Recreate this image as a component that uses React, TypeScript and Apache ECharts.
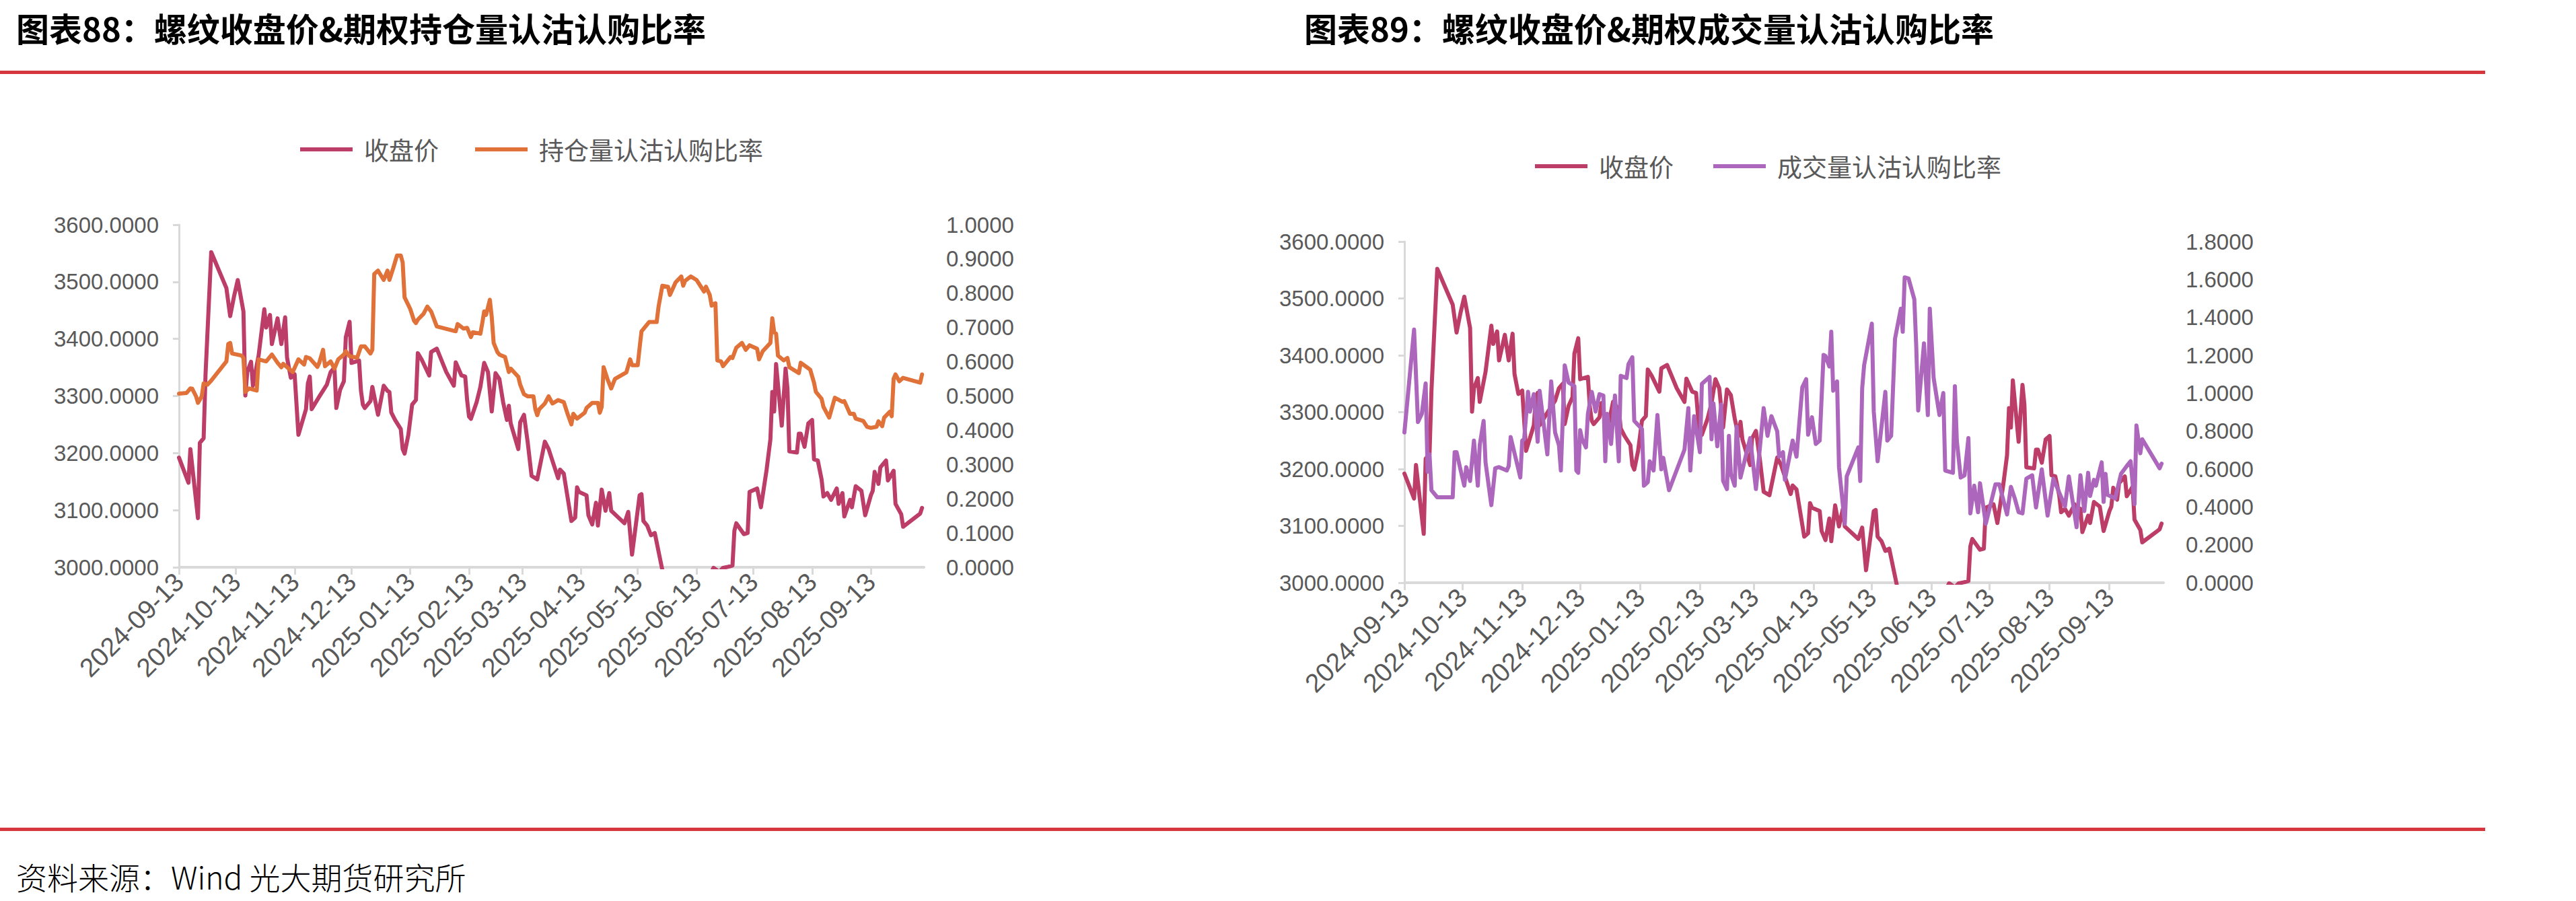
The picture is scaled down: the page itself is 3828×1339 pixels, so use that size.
import React, { useEffect, useRef } from "react";
import * as echarts from "echarts";

// ---------- texts ----------
const titles = [
  "图表88：螺纹收盘价&期权持仓量认沽认购比率",
  "图表89：螺纹收盘价&期权成交量认沽认购比率",
];
const sourceText = "资料来源：Wind 光大期货研究所";
const NAME_CLOSE = "收盘价";
const NAME_OI = "持仓量认沽认购比率";
const NAME_VOL = "成交量认沽认购比率";

// ---------- axes ----------
const START_DATE = "2024-09-13"; // day 0 of the day-offset arrays below
const AXIS_END_DAY = 393; // axis ends 393 days after START_DATE
const xTickDates = [
  "2024-09-13", "2024-10-13", "2024-11-13", "2024-12-13", "2025-01-13", "2025-02-13",
  "2025-03-13", "2025-04-13", "2025-05-13", "2025-06-13", "2025-07-13", "2025-08-13", "2025-09-13",
];
const priceAxis = { min: 3000, max: 3600, step: 100 };
const oiAxis = { min: 0, max: 1, step: 0.1 };
const volAxis = { min: 0, max: 1.8, step: 0.2 };

// ---------- data (day offsets from START_DATE) ----------
const closeDay = [
  0, 5, 6, 10, 11, 13, 14, 17, 25, 27, 29, 31, 34, 35, 36, 38, 39, 42, 45, 46, 48, 49, 52, 54, 56, 57, 59, 61, 63, 67,
  68, 69, 70, 74, 78, 80, 82, 83, 85, 87, 88, 90, 91, 95, 96, 97, 98, 101, 102, 105, 108, 110, 111, 112, 114, 117, 118, 119, 121, 123,
  125, 126, 128, 132, 133, 136, 141, 145, 146, 149, 151, 152, 153, 154, 157, 159, 161, 163, 165, 167, 169, 171, 173, 174, 175, 179, 180, 182, 184, 186,
  189, 193, 195, 200, 201, 203, 207, 209, 210, 211, 215, 216, 218, 220, 221, 223, 225, 227, 228, 235, 237, 239, 243, 244, 245, 247, 249, 251, 255, 256,
  259, 263, 266, 270, 273, 277, 280, 282, 285, 287, 290, 292, 293, 294, 298, 300, 301, 305, 307, 310, 312, 313, 314, 315, 318, 320, 321, 322, 326, 327,
  328, 330, 332, 334, 335, 337, 339, 340, 342, 344, 347, 348, 350, 351, 354, 355, 357, 360, 362, 365, 366, 367, 369, 370, 373, 374, 377, 378, 381, 382,
  391, 392,
];
const closeVal = [
  3192, 3148, 3207, 3086, 3218, 3226, 3338, 3552, 3489, 3440, 3474, 3503, 3448, 3301, 3342, 3360, 3318, 3371, 3452, 3420, 3442, 3391, 3436, 3391, 3438, 3367, 3332, 3338, 3232, 3277,
  3322, 3334, 3277, 3299, 3320, 3342, 3350, 3279, 3311, 3326, 3403, 3430, 3358, 3362, 3309, 3285, 3279, 3291, 3316, 3267, 3318, 3309, 3307, 3271, 3258, 3242, 3207, 3199, 3232, 3285,
  3293, 3375, 3364, 3336, 3377, 3383, 3342, 3318, 3359, 3336, 3334, 3293, 3264, 3260, 3289, 3316, 3358, 3342, 3273, 3340, 3330, 3289, 3258, 3283, 3252, 3207, 3254, 3267, 3218, 3160,
  3154, 3220, 3207, 3156, 3171, 3164, 3081, 3087, 3140, 3132, 3126, 3091, 3075, 3113, 3073, 3136, 3099, 3130, 3099, 3077, 3097, 3022, 3126, 3128, 3081, 3073, 3056, 3060, 2995, 2985,
  2970, 2955, 2960, 2945, 2960, 2975, 2985, 2999, 2992, 2999, 3001, 3003, 3064, 3077, 3058, 3060, 3132, 3138, 3105, 3171, 3224, 3307, 3273, 3356, 3248, 3348, 3313, 3203, 3201, 3234,
  3234, 3211, 3252, 3258, 3189, 3187, 3154, 3124, 3130, 3118, 3138, 3111, 3130, 3089, 3118, 3105, 3142, 3134, 3091, 3126, 3134, 3167, 3146, 3175, 3187, 3152, 3169, 3111, 3093, 3071,
  3094, 3104,
];

const oiDay = [
  0, 4, 6, 7, 9, 10, 12, 13, 15, 17, 25, 26, 27, 28, 33, 34, 35, 37, 41, 42, 46, 49, 52, 54, 55, 60, 63, 66, 67, 69,
  73, 74, 76, 77, 80, 82, 84, 87, 88, 90, 94, 96, 98, 101, 102, 103, 105, 108, 110, 111, 113, 115, 117, 118, 119, 122, 124, 125, 126, 129,
  131, 133, 136, 146, 147, 150, 152, 154, 155, 159, 160, 161, 162, 164, 165, 166, 168, 169, 172, 174, 175, 179, 180, 182, 184, 187, 188, 189, 190, 193,
  195, 197, 200, 203, 205, 207, 208, 210, 214, 215, 218, 221, 222, 223, 224, 226, 228, 230, 236, 238, 239, 242, 243, 244, 248, 252, 253, 255, 258, 259,
  262, 265, 266, 267, 270, 273, 277, 278, 280, 281, 283, 284, 286, 287, 291, 292, 294, 297, 299, 301, 305, 306, 308, 312, 313, 314, 315, 316, 319, 321,
  322, 327, 328, 331, 333, 335, 336, 339, 340, 343, 346, 350, 351, 354, 356, 357, 361, 363, 365, 368, 369, 371, 372, 375, 376, 377, 378, 380, 382, 391,
  392,
];
const oiVal = [
  0.507, 0.509, 0.522, 0.521, 0.499, 0.48, 0.499, 0.537, 0.533, 0.545, 0.601, 0.652, 0.655, 0.624, 0.618, 0.611, 0.512, 0.522, 0.516, 0.607, 0.601, 0.621, 0.597, 0.584, 0.594, 0.57, 0.607, 0.592, 0.614, 0.61,
  0.585, 0.597, 0.635, 0.587, 0.601, 0.58, 0.607, 0.621, 0.631, 0.616, 0.612, 0.645, 0.645, 0.624, 0.635, 0.856, 0.866, 0.839, 0.866, 0.839, 0.873, 0.91, 0.91, 0.89, 0.788, 0.754, 0.72, 0.713, 0.723, 0.74,
  0.761, 0.747, 0.703, 0.689, 0.71, 0.697, 0.699, 0.672, 0.686, 0.682, 0.713, 0.747, 0.737, 0.781, 0.73, 0.655, 0.628, 0.621, 0.614, 0.57, 0.58, 0.556, 0.533, 0.505, 0.499, 0.499, 0.461, 0.444, 0.461, 0.478,
  0.499, 0.478, 0.488, 0.482, 0.448, 0.417, 0.448, 0.434, 0.451, 0.465, 0.48, 0.48, 0.451, 0.468, 0.584, 0.55, 0.522, 0.55, 0.569, 0.607, 0.59, 0.59, 0.641, 0.689, 0.716, 0.716, 0.761, 0.822, 0.819, 0.795,
  0.832, 0.849, 0.822, 0.836, 0.849, 0.839, 0.805, 0.819, 0.795, 0.764, 0.771, 0.604, 0.601, 0.587, 0.614, 0.611, 0.641, 0.655, 0.635, 0.648, 0.638, 0.607, 0.631, 0.655, 0.727, 0.686, 0.682, 0.618, 0.604, 0.611,
  0.584, 0.567, 0.597, 0.585, 0.577, 0.539, 0.512, 0.492, 0.468, 0.437, 0.495, 0.483, 0.485, 0.448, 0.448, 0.434, 0.427, 0.41, 0.407, 0.41, 0.426, 0.412, 0.437, 0.454, 0.441, 0.55, 0.563, 0.543, 0.553, 0.539,
  0.563,
];

const volDay = [
  0, 5, 7, 9, 11, 12, 13, 14, 17, 25, 26, 27, 29, 31, 32, 34, 36, 38, 39, 41, 42, 45, 47, 49, 53, 54, 55, 60, 61, 62,
  64, 65, 67, 69, 70, 74, 76, 78, 80, 81, 83, 85, 88, 89, 90, 91, 92, 94, 95, 97, 99, 101, 103, 104, 105, 107, 109, 111, 112, 115,
  116, 118, 119, 123, 124, 126, 127, 129, 131, 133, 134, 137, 145, 147, 148, 150, 153, 154, 158, 159, 160, 162, 164, 165, 167, 168, 169, 171, 172, 174,
  179, 182, 186, 188, 190, 193, 194, 196, 197, 201, 203, 206, 208, 209, 211, 213, 215, 217, 218, 220, 221, 222, 224, 225, 228, 229, 235, 236, 237, 238,
  242, 243, 245, 249, 250, 252, 254, 257, 258, 259, 261, 264, 265, 266, 269, 271, 272, 274, 277, 279, 280, 284, 285, 286, 288, 290, 292, 293, 295, 297,
  298, 301, 306, 308, 312, 314, 316, 318, 320, 322, 325, 327, 330, 333, 336, 339, 342, 344, 348, 350, 352, 354, 355, 357, 358, 361, 362, 363, 364, 368,
  371, 374, 376, 378, 379, 381, 382, 391, 392,
];
const volVal = [
  0.793, 1.336, 0.848, 0.891, 1.052, 0.586, 0.677, 0.488, 0.451, 0.451, 0.689, 0.689, 0.598, 0.512, 0.61, 0.537, 0.75, 0.512, 0.726, 0.854, 0.635, 0.409, 0.604, 0.61, 0.592, 0.616, 0.769, 0.555, 0.75, 0.757,
  1.007, 0.903, 0.995, 0.744, 1.013, 0.677, 1.062, 0.793, 0.726, 0.592, 1.147, 1.056, 1.037, 0.592, 0.58, 0.805, 0.757, 0.714, 0.891, 1.007, 0.903, 0.995, 0.988, 0.641, 0.891, 0.732, 0.988, 0.641, 1.092, 1.08,
  1.153, 1.19, 0.854, 0.811, 0.512, 0.531, 0.641, 0.592, 0.885, 0.598, 0.659, 0.488, 0.702, 0.921, 0.592, 0.879, 0.689, 1.049, 1.086, 0.757, 0.946, 0.72, 0.94, 0.537, 0.494, 0.775, 0.574, 0.512, 0.824, 0.555,
  0.763, 0.494, 0.921, 0.775, 0.879, 0.799, 0.665, 0.689, 0.543, 0.75, 0.665, 1.031, 1.074, 0.781, 0.873, 0.732, 0.75, 1.202, 1.196, 1.141, 1.324, 1.013, 1.062, 0.61, 0.311, 0.561, 0.714, 0.537, 1.025, 1.147,
  1.367, 0.903, 0.641, 1.007, 0.75, 0.775, 1.287, 1.446, 1.324, 1.611, 1.605, 1.495, 1.245, 0.909, 1.263, 0.885, 1.446, 1.08, 0.885, 1.001, 0.592, 0.58, 1.037, 0.75, 0.555, 0.567, 0.763, 0.366, 0.512, 0.372,
  0.525, 0.311, 0.519, 0.519, 0.36, 0.506, 0.445, 0.372, 0.366, 0.549, 0.567, 0.397, 0.598, 0.354, 0.549, 0.476, 0.403, 0.561, 0.293, 0.567, 0.378, 0.58, 0.458, 0.543, 0.512, 0.635, 0.427, 0.574, 0.464, 0.445,
  0.574, 0.616, 0.641, 0.415, 0.83, 0.683, 0.757, 0.604, 0.628,
];

// ---------- style ----------
const C_CLOSE = "#BB3D68";
const C_OI = "#E07138";
const C_VOL = "#AC67BC";
const AXIS_GREY = "#D9D9D9";
const LABEL_GREY = "#595959";
const RED = "#D6363E";
const NUM_FONT = "Liberation Sans";
const CJK_FONT = '"Noto Sans CJK SC"';

const DAY_MS = 86400000;
function parseDateUTC(s: string): number {
  const [y, m, d] = s.split("-").map(Number);
  return Date.UTC(y, m - 1, d);
}
const startUTC = parseDateUTC(START_DATE);
const pad = (n: number) => (n < 10 ? "0" + n : "" + n);
function dayLabel(day: number): string {
  const dt = new Date(startUTC + Math.round(day) * DAY_MS);
  return `${dt.getUTCFullYear()}-${pad(dt.getUTCMonth() + 1)}-${pad(dt.getUTCDate())}`;
}
const tickDays = xTickDates.map((s) => Math.round((parseDateUTC(s) - startUTC) / DAY_MS));
const pairs = (days: number[], vals: number[]) => days.map((d, i) => [d, vals[i]]);

function makeX(gridIndex: number) {
  return {
    type: "value",
    gridIndex,
    min: 0,
    max: AXIS_END_DAY,
    axisLine: { show: true, onZero: false, lineStyle: { color: AXIS_GREY, width: 4 } },
    axisTick: { show: true, customValues: tickDays, length: 11, lineStyle: { color: AXIS_GREY, width: 3 } },
    axisLabel: {
      show: true,
      customValues: tickDays,
      rotate: 45,
      margin: 15,
      fontSize: 39,
      color: LABEL_GREY,
      fontFamily: NUM_FONT,
      hideOverlap: false,
      formatter: (v: number) => dayLabel(v),
    },
    splitLine: { show: false },
  };
}

function makeY(gridIndex: number, ax: { min: number; max: number; step: number }, right: boolean) {
  return {
    type: "value",
    gridIndex,
    position: right ? "right" : "left",
    min: ax.min,
    max: ax.max,
    interval: ax.step,
    axisLine: { show: !right, lineStyle: { color: AXIS_GREY, width: 3 } },
    axisTick: { show: !right, length: 9, lineStyle: { color: AXIS_GREY, width: 3 } },
    axisLabel: {
      margin: right ? 33 : 30,
      fontSize: 33,
      color: LABEL_GREY,
      fontFamily: NUM_FONT,
      formatter: (v: number) => v.toFixed(4),
    },
    splitLine: { show: false },
  };
}

function lineSeries(name: string, xi: number, yi: number, data: number[][], color: string, z: number) {
  return {
    name,
    type: "line",
    xAxisIndex: xi,
    yAxisIndex: yi,
    data,
    showSymbol: false,
    symbol: "none",
    clip: true,
    z,
    itemStyle: { color },
    lineStyle: { color, width: 6, join: "round", cap: "round" },
  };
}

function legendAt(left: number, top: number, names: string[], gap: number) {
  return {
    left,
    top,
    data: names,
    icon: "rect",
    itemWidth: 78,
    itemHeight: 6,
    itemGap: gap,
    selectedMode: false,
    textStyle: { fontSize: 37, color: LABEL_GREY, fontFamily: CJK_FONT, padding: [0, 0, 0, 12], lineHeight: 44 },
  };
}

export default function App() {
  const ref = useRef<HTMLDivElement>(null);
  useEffect(() => {
    document.body.style.margin = "0";
    if (!ref.current) return;
    const chart = echarts.init(ref.current, null, { renderer: "svg" });
    const closeData = pairs(closeDay, closeVal);
    chart.setOption({
      animation: false,
      backgroundColor: "#ffffff",
      grid: [
        { left: 266, top: 334, width: 1107, height: 509 },
        { left: 2087, top: 359, width: 1128, height: 507 },
      ],
      xAxis: [makeX(0), makeX(1)],
      yAxis: [makeY(0, priceAxis, false), makeY(0, oiAxis, true), makeY(1, priceAxis, false), makeY(1, volAxis, true)],
      legend: [legendAt(441, 195, [NAME_CLOSE, NAME_OI], 54), legendAt(2276, 220, [NAME_CLOSE, NAME_VOL], 59)],
      series: [
        lineSeries(NAME_CLOSE, 0, 0, closeData, C_CLOSE, 2),
        lineSeries(NAME_OI, 0, 1, pairs(oiDay, oiVal), C_OI, 3),
        lineSeries(NAME_CLOSE, 1, 2, closeData, C_CLOSE, 2),
        lineSeries(NAME_VOL, 1, 3, pairs(volDay, volVal), C_VOL, 3),
      ],
      graphic: [
        { type: "text", left: 24, top: 16, style: { text: titles[0], font: `bold 49px ${CJK_FONT}`, fill: "#000" } },
        { type: "text", left: 1938, top: 16, style: { text: titles[1], font: `bold 49px ${CJK_FONT}`, fill: "#000" } },
        { type: "rect", shape: { x: 0, y: 105, width: 3693, height: 5 }, style: { fill: RED } },
        { type: "rect", shape: { x: 0, y: 1230, width: 3693, height: 5 }, style: { fill: RED } },
        { type: "text", left: 24, top: 1279, style: { text: sourceText, font: `300 46px ${CJK_FONT}`, fill: "#000" } },
      ],
    });
    return () => chart.dispose();
  }, []);
  return <div ref={ref} style={{ width: 3828, height: 1339 }} />;
}
